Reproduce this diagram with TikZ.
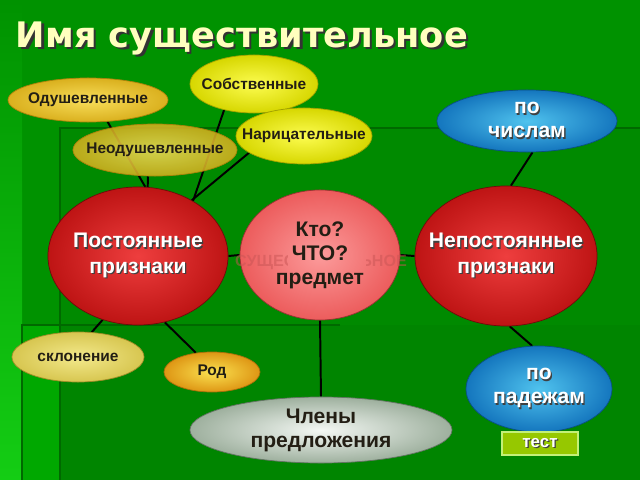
\documentclass[tikz,border=0pt]{standalone}
\usepackage{fontspec}
\setmainfont{Liberation Sans}
\newfontfamily\titlefont{DejaVu Sans}
\usetikzlibrary{shapes.geometric}
\definecolor{bgmain}{RGB}{0,146,0}
\definecolor{bgbright}{RGB}{20,205,20}
\definecolor{bginner}{RGB}{0,138,0}
\definecolor{bgleft}{RGB}{0,168,0}
\definecolor{bglow}{RGB}{0,133,0}
\definecolor{bgline}{RGB}{0,105,0}
\definecolor{titlecol}{RGB}{255,255,190}
\definecolor{ink}{RGB}{35,30,20}
\pgfdeclarelayer{bg}
\pgfdeclarelayer{lines}
\pgfsetlayers{bg,lines,main}
% shadowed white text
\newcommand\shd[1]{\makebox[0pt][l]{\hspace{0.9pt}\raisebox{-0.9pt}{\color{black!75}#1}}#1}
\begin{document}
\begin{tikzpicture}[x=0.025cm, y=-0.025cm,
    blob/.style={ellipse, inner sep=-3cm, align=center, font=\bfseries\fontsize{11pt}{12pt}\selectfont, text=ink, line width=0.5pt},
    gold/.style={blob, draw={rgb,255:red,170;green,130;blue,10}, inner color={rgb,255:red,248;green,222;blue,90}, outer color={rgb,255:red,218;green,176;blue,30}},
    lemon/.style={blob, draw={rgb,255:red,160;green,160;blue,0}, inner color={rgb,255:red,252;green,252;blue,80}, outer color={rgb,255:red,215;green,215;blue,0}},
    pale/.style={blob, draw={rgb,255:red,160;green,140;blue,40}, inner color={rgb,255:red,243;green,233;blue,140}, outer color={rgb,255:red,215;green,198;blue,80}},
    orange/.style={blob, draw={rgb,255:red,170;green,110;blue,10}, inner color={rgb,255:red,250;green,225;blue,80}, outer color={rgb,255:red,222;green,150;blue,20}},
    blue/.style={blob, draw={rgb,255:red,10;green,80;blue,130}, text=white, font=\bfseries\fontsize{15pt}{17pt}\selectfont, inner color={rgb,255:red,80;green,195;blue,238}, outer color={rgb,255:red,20;green,118;blue,190}},
    red/.style={blob, draw={rgb,255:red,110;green,10;blue,10}, text=white, font=\bfseries\fontsize{15pt}{18pt}\selectfont, inner color={rgb,255:red,238;green,62;blue,62}, outer color={rgb,255:red,190;green,20;blue,20}},
    pink/.style={blob, draw={rgb,255:red,150;green,50;blue,50}, font=\bfseries\fontsize{15pt}{17pt}\selectfont, inner color={rgb,255:red,252;green,155;blue,155}, outer color={rgb,255:red,236;green,92;blue,92}},
    silver/.style={blob, draw={rgb,255:red,100;green,115;blue,100}, font=\bfseries\fontsize{15pt}{17pt}\selectfont, inner color={rgb,255:red,244;green,248;blue,244}, outer color={rgb,255:red,158;green,176;blue,158}},
    link/.style={line width=1.4pt, black}]
\useasboundingbox (0,0) rectangle (640,480);
% background
\begin{pgfonlayer}{bg}
\fill[bgmain] (0,0) rectangle (640,480);
\shade[top color=bgmain, bottom color=bgbright] (0,0) rectangle (22,480);
\fill[bginner] (60,128) rectangle (640,480);
\fill[bgleft] (22,325) rectangle (60,480);
\fill[bglow] (60,325) rectangle (640,480);
\draw[bgline, line width=0.8pt] (640,128) -- (60,128) -- (60,480);
\draw[bgline, line width=0.8pt] (340,325) -- (22,325) -- (22,480);
\end{pgfonlayer}

\node[anchor=base west, text=titlecol, font=\titlefont\bfseries\fontsize{25pt}{28pt}\selectfont] (title) at (11,47) {\makebox[0pt][l]{\hspace{1.6pt}\raisebox{-1.6pt}{\color{black!80}Имя существительное}}Имя существительное};

% nodes
\node[gold, minimum width=4cm, minimum height=1.1cm] (odu) at (88,100) {Одушевленные};
\node[lemon, minimum width=3.2cm, minimum height=1.45cm] (sob) at (254,84) {Собственные};
\node[lemon, minimum width=3.4cm, minimum height=1.4cm] (nar) at (304,136) {Нарицательные};
\node[gold, fill opacity=0.85, text opacity=1, minimum width=4.1cm, minimum height=1.3cm] (neo) at (155,150) {Неодушевленные};
\node[red, minimum width=4.5cm, minimum height=3.45cm] (post) at (138,256) {\shd{Постоянные}\\\shd{признаки}};
\node[pale, minimum width=3.3cm, minimum height=1.25cm] (skl) at (78,357) {склонение};
\node[orange, minimum width=2.4cm, minimum height=1cm] (rod) at (212,372) {Род};
\node[blue, minimum width=4.5cm, minimum height=1.55cm] (num) at (527,121) {\shd{по}\\\shd{числам}};
\node[red, minimum width=4.55cm, minimum height=3.5cm] (nepost) at (506,256) {\shd{Непостоянные}\\\shd{признаки}};
\node[blue, minimum width=3.65cm, minimum height=2.15cm] (pad) at (539,389) {\shd{по}\\\shd{падежам}};
\node[pink, minimum width=4cm, minimum height=3.25cm] (kto) at (320,255) {};
% watermark, only its ends show
\begin{scope}
\clip (232,248) rectangle (287,276) (366,248) rectangle (408,276);
\node[text={rgb,255:red,200;green,85;blue,85}, text opacity=0.5, font=\bfseries\fontsize{11.5pt}{12pt}\selectfont] (mark) at (321,262) {СУЩЕСТВИТЕЛЬНОЕ};
\end{scope}
\node[font=\bfseries\fontsize{15pt}{17pt}\selectfont, text=ink, align=center] (ktotext) at (320,255) {Кто?\\ЧТО?\\предмет};
\node[silver, minimum width=6.55cm, minimum height=1.65cm] (chl) at (321,430) {Члены\\предложения};
\node[rectangle, fill={rgb,255:red,150;green,200;blue,0}, draw={rgb,255:red,195;green,240;blue,120}, line width=0.8pt, minimum width=1.9cm, minimum height=0.575cm, inner sep=0pt, text=white, font=\bfseries\fontsize{12pt}{13pt}\selectfont] (test) at (540,443.5) {\shd{тест}};

% connectors
\begin{pgfonlayer}{lines}
\draw[link] (post.east) -- (kto.west);
\draw[link] (kto.east) -- (nepost.west);
\draw[link] (kto.south) -- (chl.north);
\draw[link] (post.-119) -- (skl.61);
\draw[link] (post.-68) -- (rod.130);
\draw[link] (num.-80) -- (nepost.86);
\draw[link] (nepost.-87) -- (pad.99);
\draw[link] (odu.-48) -- (post.84);
\draw[link] (neo.-105) -- (post.82);
\draw[link] (sob.-139) -- (post.45);
\draw[link] (nar.-163) -- (post.46);
\end{pgfonlayer}
\end{tikzpicture}
\end{document}
